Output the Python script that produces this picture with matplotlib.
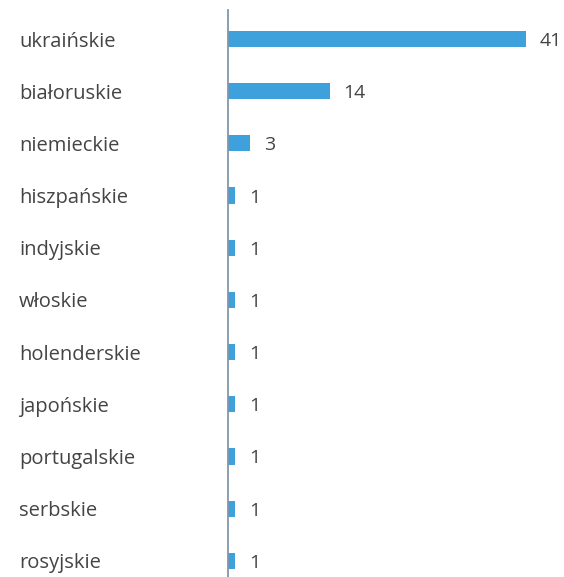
import matplotlib
matplotlib.use("Agg")
import matplotlib.pyplot as plt

categories = ["ukraińskie", "białoruskie", "niemieckie", "hiszpańskie", "indyjskie",
              "włoskie", "holenderskie", "japońskie", "portugalskie", "serbskie", "rosyjskie"]
values = [41, 14, 3, 1, 1, 1, 1, 1, 1, 1, 1]

W, H = 564, 577
fig = plt.figure(figsize=(W / 100, H / 100), dpi=100)
ax_left, ax_right, ax_top, ax_bot = 228, 564, 10, 577
ax = fig.add_axes([ax_left / W, 1 - ax_bot / H, (ax_right - ax_left) / W, (ax_bot - ax_top) / H])

bar_color = "#3fa1db"
text_color = "#444444"
font = "Open Sans"

pos = list(range(len(categories)))
ax.barh(pos, values, height=0.31, color=bar_color)
ax.set_ylim(10.31, -0.556)
ax.set_xlim(0, 41 * (ax_right - ax_left) / 298)

for p, v in zip(pos, values):
    ax.annotate(str(v), xy=(v, p), xytext=(10, 0), textcoords="offset points",
                ha="left", va="center_baseline", fontsize=14, color=text_color, family=font)

ax.set_yticks(pos)
ax.set_yticklabels(categories, fontsize=14.5, color=text_color, family=font)
ax.tick_params(axis="y", length=0, pad=(228 - 19) * 72 / 100)
for lab in ax.get_yticklabels():
    lab.set_horizontalalignment("left")
    lab.set_verticalalignment("center_baseline")
ax.set_xticks([])
for s in ["top", "right", "bottom"]:
    ax.spines[s].set_visible(False)
ax.spines["left"].set_color("#8197ad")
ax.spines["left"].set_linewidth(1.3)

fig.savefig("out.png", dpi=100)
